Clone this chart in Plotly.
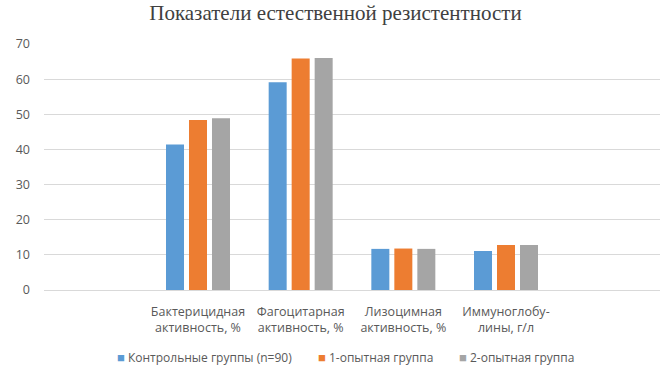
import plotly.graph_objects as go

categories = [
    "Бактерицидная<br>активность, %",
    "Фагоцитарная<br>активность, %",
    "Лизоцимная<br>активность, %",
    "Иммуноглобу-<br>лины, г/л",
]
control = [41.4, 59.1, 11.7, 11.1]
group1 = [48.4, 65.9, 11.8, 12.8]
group2 = [48.9, 66.0, 11.7, 12.8]
series_names = ["Контрольные группы (n=90)", "1-опытная группа", "2-опытная группа"]
colors = ["#5B9BD5", "#ED7D31", "#A5A5A5"]
y_ticks = [0, 10, 20, 30, 40, 50, 60, 70]

fig = go.Figure()
for name, vals, col in zip(series_names, [control, group1, group2], colors):
    fig.add_trace(go.Bar(x=categories, y=vals, name=name, marker_color=col,
                         marker_line_width=0, showlegend=False, hoverinfo="skip"))

font_main = "Open Sans, Liberation Sans, Arial, sans-serif"

# legend drawn as text entries (square marker + label)
legend_x = [0.1153, 0.4416, 0.6705]
for name, col, lx in zip(series_names, colors, legend_x):
    fig.add_annotation(
        xref="paper", yref="paper", x=lx, y=-0.272, xanchor="left", yanchor="middle",
        showarrow=False,
        text=f'<span style="color:{col};font-size:13px">■</span> {name}',
        font=dict(family=font_main, size=12, color="#595959"),
    )

fig.update_layout(
    width=671, height=372,
    margin=dict(l=44, r=11, t=44, b=82),
    paper_bgcolor="white", plot_bgcolor="white",
    barmode="group", bargap=0.328, bargroupgap=0.217,
    title=dict(text="Показатели естественной резистентности",
               font=dict(family="Liberation Serif, Times New Roman, serif", size=21, color="#404040"),
               x=0.5, xanchor="center", y=0.965, yanchor="middle"),
    font=dict(family=font_main, size=12, color="#595959"),
    xaxis=dict(range=[-1.5, 4.5], showgrid=False, showline=True, linecolor="#D9D9D9",
               linewidth=1, ticks="", ticklabelstandoff=10, automargin=False,
               tickfont=dict(size=12.5, color="#595959")),
    yaxis=dict(range=[0, 70], tickvals=y_ticks, showgrid=True, gridcolor="#D9D9D9",
               gridwidth=1, zeroline=False, showline=False, ticks="",
               ticklabelstandoff=13, automargin=False,
               tickfont=dict(size=12.5, color="#595959")),
    showlegend=False,
)

fig.write_html("out.html", config={"displayModeBar": False},
               post_script="document.body.style.margin='0';")
